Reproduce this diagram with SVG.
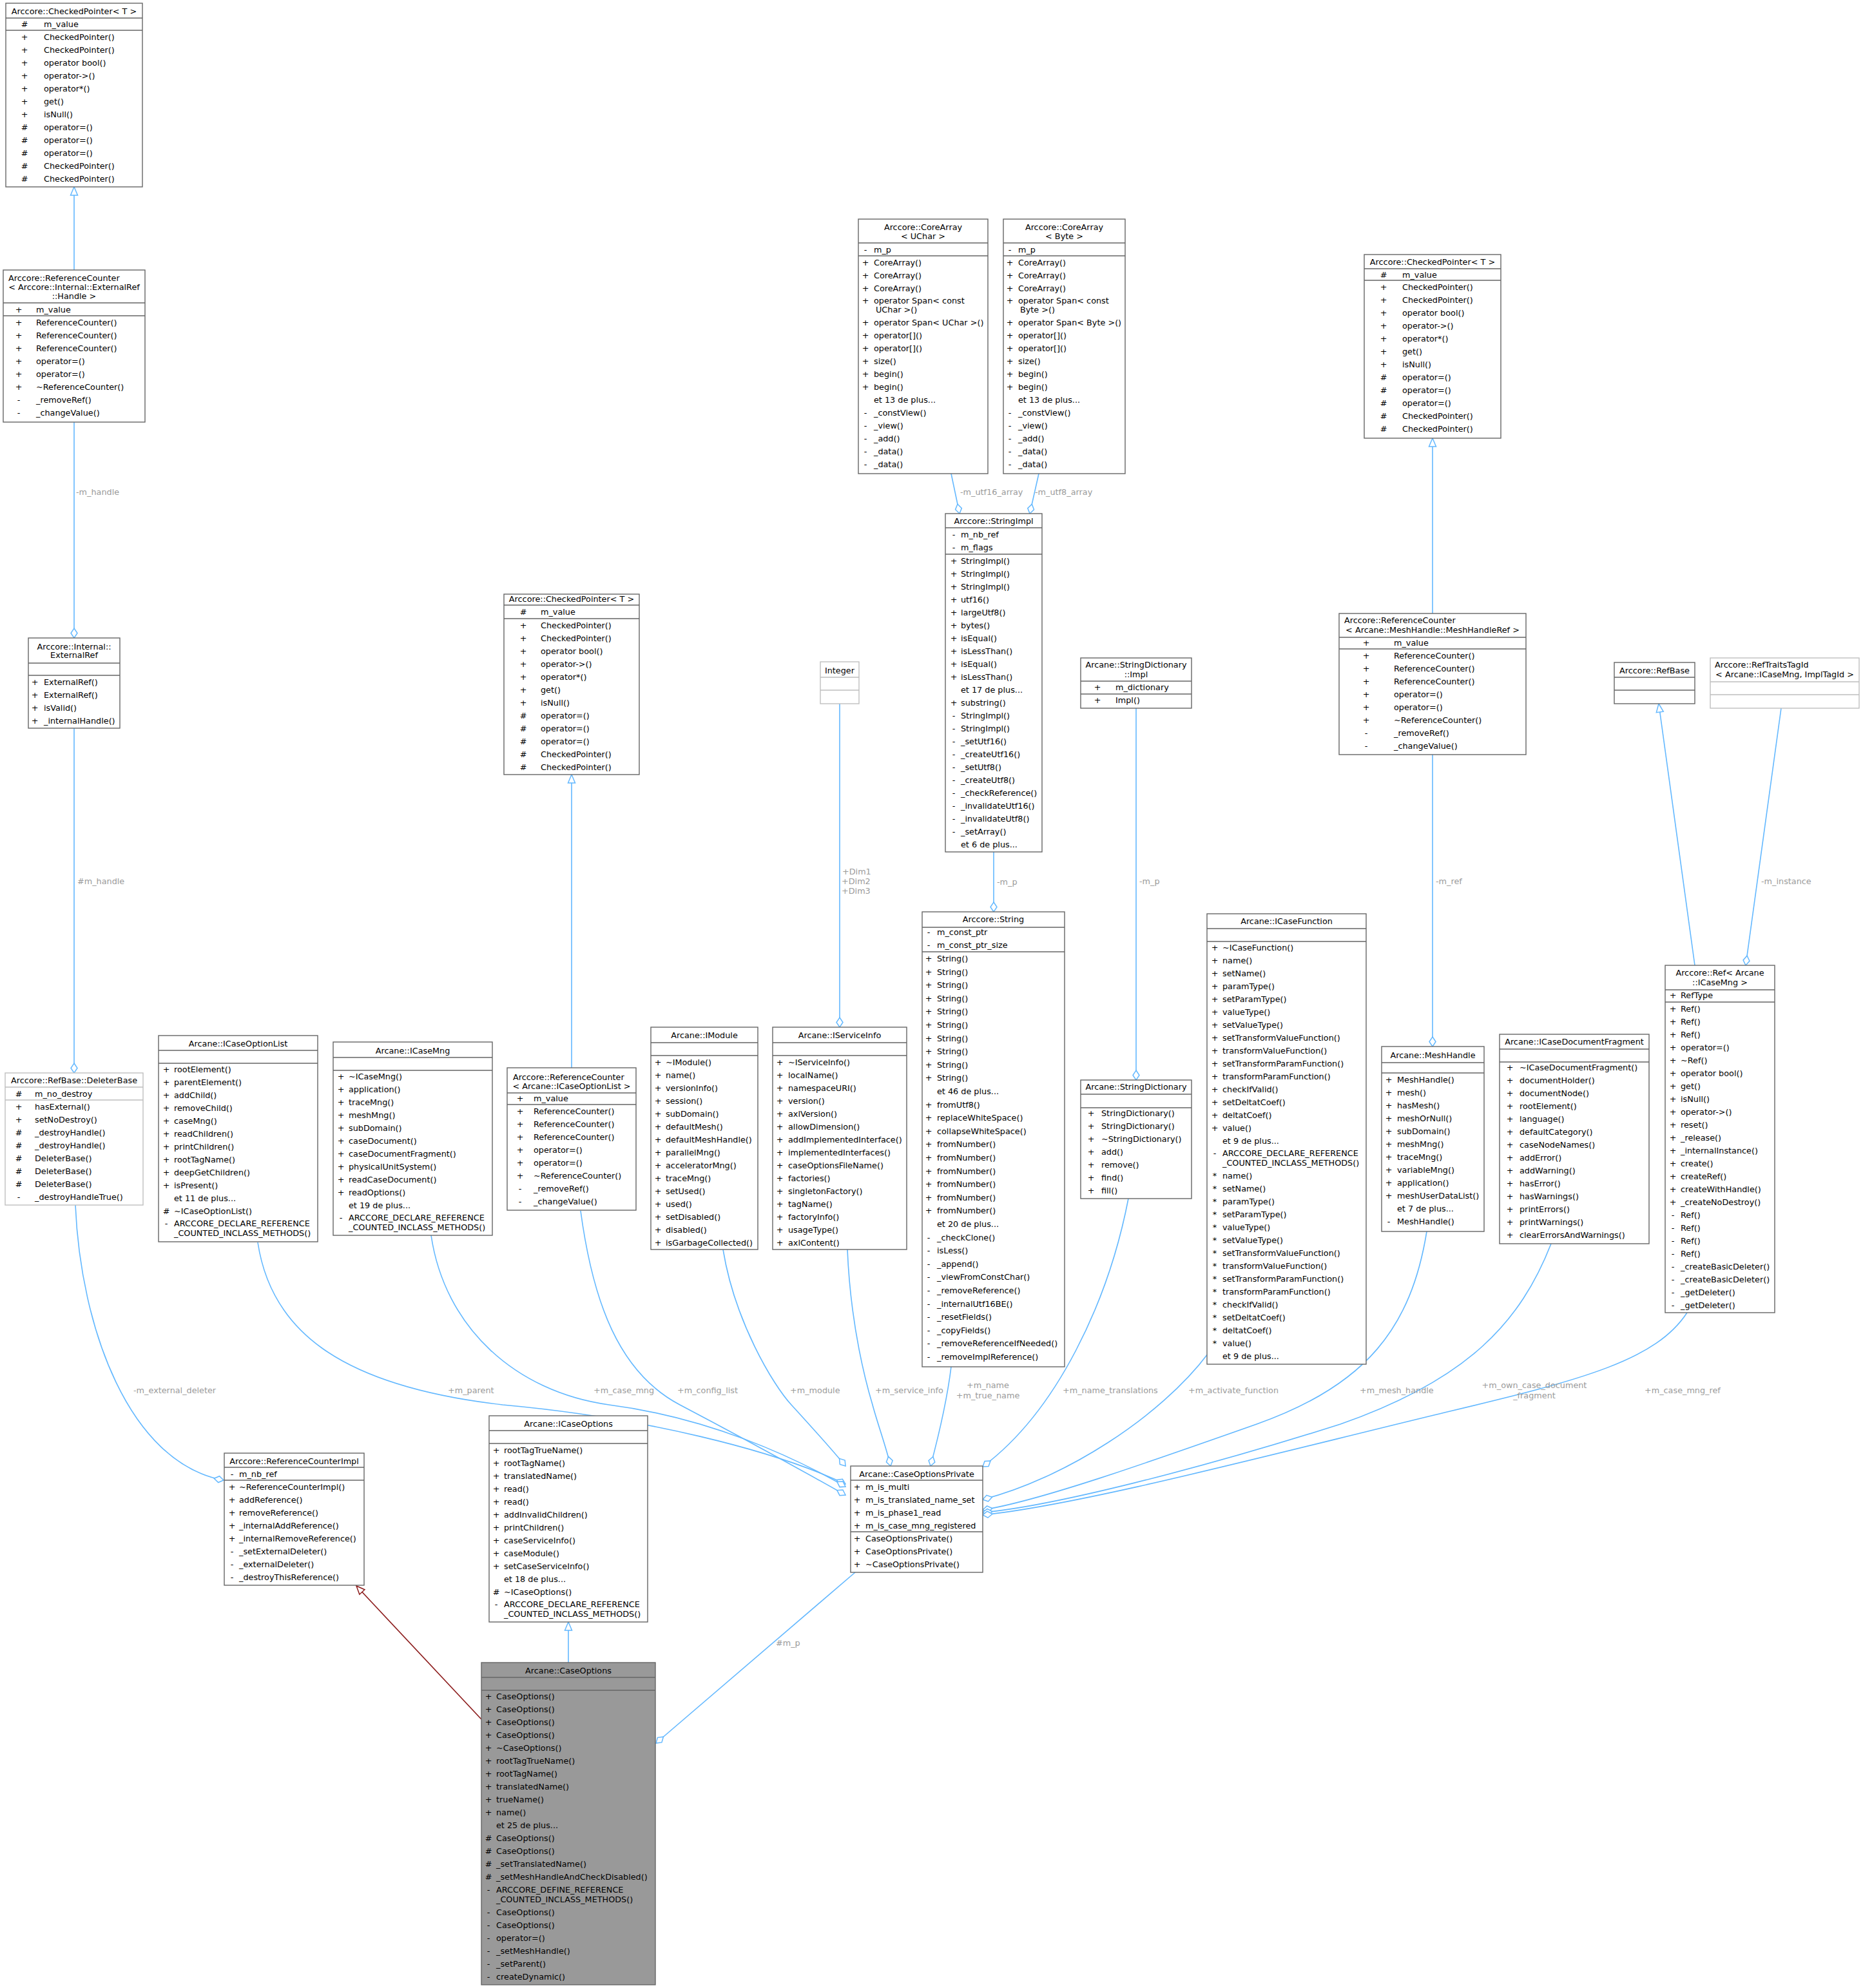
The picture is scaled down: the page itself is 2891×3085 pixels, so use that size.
<svg xmlns="http://www.w3.org/2000/svg" width="2891" height="3085" viewBox="0 0 2891 3085">
<style>
text{font-family:"DejaVu Sans","Liberation Sans",Arial,sans-serif;font-size:12.8px;fill:#000}
.m{text-anchor:middle}
.l{fill:#9a9a9a}
.b{fill:#fff;stroke:#666;stroke-width:1.4}
.x{fill:#fff;stroke:#bfbfbf;stroke-width:1.4}
.g{fill:#999;stroke:#666;stroke-width:1.4}
.s{stroke:#666;stroke-width:1.4;fill:none}
.sx{stroke:#bfbfbf;stroke-width:1.4;fill:none}
.e{fill:none;stroke:#63b8ff;stroke-width:1.6}
.r{fill:none;stroke:#8b1a1a;stroke-width:1.6}
</style>
<defs>
<marker id="dia" viewBox="-17 -7 18 14" refX="0" refY="0" markerWidth="18" markerHeight="14" orient="auto" markerUnits="userSpaceOnUse"><path d="M-15,0L-7.5,-5L0,0L-7.5,5Z" fill="#fff" stroke="#63b8ff" stroke-width="1.5"/></marker>
<marker id="tri" viewBox="-15 -7 16 14" refX="0" refY="0" markerWidth="16" markerHeight="14" orient="auto" markerUnits="userSpaceOnUse"><path d="M-13,-5.5L0,0L-13,5.5Z" fill="#fff" stroke="#63b8ff" stroke-width="1.5"/></marker>
<marker id="trir" viewBox="-15 -7 16 14" refX="0" refY="0" markerWidth="16" markerHeight="14" orient="auto" markerUnits="userSpaceOnUse"><path d="M-13,-5.5L0,0L-13,5.5Z" fill="#fff" stroke="#8b1a1a" stroke-width="1.5"/></marker>
</defs>
<rect width="2891" height="3085" fill="#fff"/>
<g id="edges">
<path class="e" marker-end="url(#tri)" d="M115,419V290"/>
<path class="e" marker-end="url(#dia)" d="M115,655V990"/>
<path class="e" marker-end="url(#dia)" d="M115,1130V1665"/>
<path class="e" marker-end="url(#dia)" d="M117,1870C125,2060 200,2270 347,2297"/>
<path class="e" marker-end="url(#tri)" d="M887,1657V1202"/>
<path class="e" marker-end="url(#dia)" d="M1303,1092V1594"/>
<path class="e" marker-end="url(#dia)" d="M1476,735L1489,797"/>
<path class="e" marker-end="url(#dia)" d="M1612,735L1598,797"/>
<path class="e" marker-end="url(#dia)" d="M1542,1322V1415"/>
<path class="e" marker-end="url(#dia)" d="M1763,1099V1676"/>
<path class="e" marker-end="url(#tri)" d="M2223,952V680"/>
<path class="e" marker-end="url(#dia)" d="M2223,1171V1624"/>
<path class="e" marker-end="url(#tri)" d="M2630,1498L2574,1092"/>
<path class="e" marker-end="url(#dia)" d="M2764,1099L2709,1498"/>
<path class="e" marker-end="url(#dia)" d="M400,1928C420,2060 520,2150 780,2180C1000,2200 1200,2250 1312,2303"/>
<path class="e" marker-end="url(#dia)" d="M669,1917C690,2060 800,2160 945,2180C1100,2200 1230,2260 1312,2307"/>
<path class="e" marker-end="url(#dia)" d="M901,1879C920,2020 960,2130 1055,2180C1150,2230 1250,2285 1312,2320"/>
<path class="e" marker-end="url(#dia)" d="M1122,1939C1140,2050 1200,2150 1228,2180C1260,2215 1290,2248 1312,2275"/>
<path class="e" marker-end="url(#dia)" d="M1315,1939C1320,2060 1345,2150 1354,2180C1362,2210 1375,2245 1382,2275"/>
<path class="e" marker-end="url(#dia)" d="M1476,2121C1470,2170 1460,2215 1444,2275"/>
<path class="e" marker-end="url(#dia)" d="M1751,1860C1720,2020 1640,2190 1525,2276"/>
<path class="e" marker-end="url(#dia)" d="M1875,2100C1800,2200 1650,2295 1525,2327"/>
<path class="e" marker-end="url(#dia)" d="M2214,1911C2190,2060 2120,2150 1950,2210C1780,2270 1610,2330 1525,2343"/>
<path class="e" marker-end="url(#dia)" d="M2407,1930C2360,2050 2280,2140 2080,2210C1860,2280 1630,2338 1525,2347"/>
<path class="e" marker-end="url(#dia)" d="M2618,2037C2570,2110 2460,2140 2250,2190C1980,2255 1680,2335 1525,2351"/>
<path class="e" marker-end="url(#dia)" d="M1327,2440L1018,2705"/>
<path class="e" marker-end="url(#tri)" d="M882,2580V2517"/>
<path class="r" marker-end="url(#trir)" d="M747,2668L553,2461"/>
<text class="l" x="118" y="768">-m_handle</text>
<text class="l" x="120" y="1372">#m_handle</text>
<text class="l" x="207" y="2162">-m_external_deleter</text>
<text class="l" x="1307" y="1357">+Dim1</text>
<text class="l" x="1306" y="1372">+Dim2</text>
<text class="l" x="1306" y="1387">+Dim3</text>
<text class="l" x="1490" y="768">-m_utf16_array</text>
<text class="l" x="1606" y="768">-m_utf8_array</text>
<text class="l" x="1547" y="1373">-m_p</text>
<text class="l" x="1768" y="1372">-m_p</text>
<text class="l" x="2228" y="1372">-m_ref</text>
<text class="l" x="2733" y="1372">-m_instance</text>
<text class="l" x="695" y="2162">+m_parent</text>
<text class="l" x="921" y="2162">+m_case_mng</text>
<text class="l" x="1051" y="2162">+m_config_list</text>
<text class="l" x="1226" y="2162">+m_module</text>
<text class="l" x="1358" y="2162">+m_service_info</text>
<text class="l m" x="1533" y="2154">+m_name</text>
<text class="l m" x="1533" y="2170">+m_true_name</text>
<text class="l" x="1649" y="2162">+m_name_translations</text>
<text class="l" x="1844" y="2162">+m_activate_function</text>
<text class="l" x="2110" y="2162">+m_mesh_handle</text>
<text class="l m" x="2381" y="2154">+m_own_case_document</text>
<text class="l m" x="2381" y="2170">_fragment</text>
<text class="l" x="2552" y="2162">+m_case_mng_ref</text>
<text class="l" x="1204" y="2554">#m_p</text>
</g>

<g id="cp1">
<rect class="b" x="9" y="5" width="212" height="285"/>
<path class="s" d="M9,28H221M9,47H221"/>
<text class="m" x="115" y="22">Arccore::CheckedPointer&lt; T &gt;</text>
<text class="m" x="38" y="42">#</text><text x="68" y="42">m_value</text>
<text class="m" y="62"><tspan x="38">+</tspan><tspan x="38" dy="20">+</tspan><tspan x="38" dy="20">+</tspan><tspan x="38" dy="20">+</tspan><tspan x="38" dy="20">+</tspan><tspan x="38" dy="20">+</tspan><tspan x="38" dy="20">+</tspan><tspan x="38" dy="20">#</tspan><tspan x="38" dy="20">#</tspan><tspan x="38" dy="20">#</tspan><tspan x="38" dy="20">#</tspan><tspan x="38" dy="20">#</tspan></text>
<text y="62"><tspan x="68">CheckedPointer()</tspan><tspan x="68" dy="20">CheckedPointer()</tspan><tspan x="68" dy="20">operator bool()</tspan><tspan x="68" dy="20">operator-&gt;()</tspan><tspan x="68" dy="20">operator*()</tspan><tspan x="68" dy="20">get()</tspan><tspan x="68" dy="20">isNull()</tspan><tspan x="68" dy="20">operator=()</tspan><tspan x="68" dy="20">operator=()</tspan><tspan x="68" dy="20">operator=()</tspan><tspan x="68" dy="20">CheckedPointer()</tspan><tspan x="68" dy="20">CheckedPointer()</tspan></text>
</g>

<g id="rc1">
<rect class="b" x="5" y="419" width="220" height="236"/>
<path class="s" d="M5,470H225M5,490H225"/>
<text x="13" y="436">Arccore::ReferenceCounter</text>
<text class="m" x="115" y="450">&lt; Arccore::Internal::ExternalRef</text>
<text class="m" x="115" y="464">::Handle &gt;</text>
<text class="m" x="29" y="485">+</text><text x="56" y="485">m_value</text>
<text class="m" y="505"><tspan x="29">+</tspan><tspan x="29" dy="20">+</tspan><tspan x="29" dy="20">+</tspan><tspan x="29" dy="20">+</tspan><tspan x="29" dy="20">+</tspan><tspan x="29" dy="20">+</tspan><tspan x="29" dy="20">-</tspan><tspan x="29" dy="20">-</tspan></text>
<text y="505"><tspan x="56">ReferenceCounter()</tspan><tspan x="56" dy="20">ReferenceCounter()</tspan><tspan x="56" dy="20">ReferenceCounter()</tspan><tspan x="56" dy="20">operator=()</tspan><tspan x="56" dy="20">operator=()</tspan><tspan x="56" dy="20">~ReferenceCounter()</tspan><tspan x="56" dy="20">_removeRef()</tspan><tspan x="56" dy="20">_changeValue()</tspan></text>
</g>

<g id="er">
<rect class="b" x="44" y="990" width="142" height="140"/>
<path class="s" d="M44,1029H186M44,1048H186"/>
<text class="m" x="115" y="1008">Arccore::Internal::</text>
<text class="m" x="115" y="1021">ExternalRef</text>
<text class="m" y="1063"><tspan x="54">+</tspan><tspan x="54" dy="20">+</tspan><tspan x="54" dy="20">+</tspan><tspan x="54" dy="20">+</tspan></text>
<text y="1063"><tspan x="68">ExternalRef()</tspan><tspan x="68" dy="20">ExternalRef()</tspan><tspan x="68" dy="20">isValid()</tspan><tspan x="68" dy="20">_internalHandle()</tspan></text>
</g>

<g id="db">
<rect class="x" x="8" y="1665" width="214" height="205"/>
<path class="sx" d="M8,1687H222M8,1707H222"/>
<text class="m" x="115" y="1681">Arccore::RefBase::DeleterBase</text>
<text class="m" x="29" y="1702">#</text><text x="54" y="1702">m_no_destroy</text>
<text class="m" y="1722"><tspan x="29">+</tspan><tspan x="29" dy="20">+</tspan><tspan x="29" dy="20">#</tspan><tspan x="29" dy="20">#</tspan><tspan x="29" dy="20">#</tspan><tspan x="29" dy="20">#</tspan><tspan x="29" dy="20">#</tspan><tspan x="29" dy="20">-</tspan></text>
<text y="1722"><tspan x="54">hasExternal()</tspan><tspan x="54" dy="20">setNoDestroy()</tspan><tspan x="54" dy="20">_destroyHandle()</tspan><tspan x="54" dy="20">_destroyHandle()</tspan><tspan x="54" dy="20">DeleterBase()</tspan><tspan x="54" dy="20">DeleterBase()</tspan><tspan x="54" dy="20">DeleterBase()</tspan><tspan x="54" dy="20">_destroyHandleTrue()</tspan></text>
</g>

<g id="rci">
<rect class="b" x="348" y="2255" width="217" height="205"/>
<path class="s" d="M348,2277H565M348,2297H565"/>
<text class="m" x="456.5" y="2272">Arccore::ReferenceCounterImpl</text>
<text class="m" x="360" y="2292">-</text><text x="371" y="2292">m_nb_ref</text>
<text class="m" y="2312"><tspan x="360">+</tspan><tspan x="360" dy="20">+</tspan><tspan x="360" dy="20">+</tspan><tspan x="360" dy="20">+</tspan><tspan x="360" dy="20">+</tspan><tspan x="360" dy="20">-</tspan><tspan x="360" dy="20">-</tspan><tspan x="360" dy="20">-</tspan></text>
<text y="2312"><tspan x="371">~ReferenceCounterImpl()</tspan><tspan x="371" dy="20">addReference()</tspan><tspan x="371" dy="20">removeReference()</tspan><tspan x="371" dy="20">_internalAddReference()</tspan><tspan x="371" dy="20">_internalRemoveReference()</tspan><tspan x="371" dy="20">_setExternalDeleter()</tspan><tspan x="371" dy="20">_externalDeleter()</tspan><tspan x="371" dy="20">_destroyThisReference()</tspan></text>
</g>

<g id="icol">
<rect class="b" x="246" y="1607" width="247" height="320"/>
<path class="s" d="M246,1630H493M246,1650H493"/>
<text class="m" x="369.5" y="1624">Arcane::ICaseOptionList</text>
<text class="m" y="1664"><tspan x="258">+</tspan><tspan x="258" dy="20">+</tspan><tspan x="258" dy="20">+</tspan><tspan x="258" dy="20">+</tspan><tspan x="258" dy="20">+</tspan><tspan x="258" dy="20">+</tspan><tspan x="258" dy="20">+</tspan><tspan x="258" dy="20">+</tspan><tspan x="258" dy="20">+</tspan><tspan x="258" dy="20">+</tspan><tspan x="258" dy="40">#</tspan><tspan x="258" dy="19">-</tspan></text>
<text y="1664"><tspan x="270">rootElement()</tspan><tspan x="270" dy="20">parentElement()</tspan><tspan x="270" dy="20">addChild()</tspan><tspan x="270" dy="20">removeChild()</tspan><tspan x="270" dy="20">caseMng()</tspan><tspan x="270" dy="20">readChildren()</tspan><tspan x="270" dy="20">printChildren()</tspan><tspan x="270" dy="20">rootTagName()</tspan><tspan x="270" dy="20">deepGetChildren()</tspan><tspan x="270" dy="20">isPresent()</tspan><tspan x="270" dy="20">et 11 de plus...</tspan><tspan x="270" dy="20">~ICaseOptionList()</tspan><tspan x="270" dy="19">ARCCORE_DECLARE_REFERENCE</tspan><tspan x="270" dy="15">_COUNTED_INCLASS_METHODS()</tspan></text>
</g>

<g id="icm">
<rect class="b" x="517" y="1617" width="247" height="300"/>
<path class="s" d="M517,1641H764M517,1661H764"/>
<text class="m" x="640.5" y="1635">Arcane::ICaseMng</text>
<text class="m" y="1675"><tspan x="529">+</tspan><tspan x="529" dy="20">+</tspan><tspan x="529" dy="20">+</tspan><tspan x="529" dy="20">+</tspan><tspan x="529" dy="20">+</tspan><tspan x="529" dy="20">+</tspan><tspan x="529" dy="20">+</tspan><tspan x="529" dy="20">+</tspan><tspan x="529" dy="20">+</tspan><tspan x="529" dy="20">+</tspan><tspan x="529" dy="39">-</tspan></text>
<text y="1675"><tspan x="541">~ICaseMng()</tspan><tspan x="541" dy="20">application()</tspan><tspan x="541" dy="20">traceMng()</tspan><tspan x="541" dy="20">meshMng()</tspan><tspan x="541" dy="20">subDomain()</tspan><tspan x="541" dy="20">caseDocument()</tspan><tspan x="541" dy="20">caseDocumentFragment()</tspan><tspan x="541" dy="20">physicalUnitSystem()</tspan><tspan x="541" dy="20">readCaseDocument()</tspan><tspan x="541" dy="20">readOptions()</tspan><tspan x="541" dy="20">et 19 de plus...</tspan><tspan x="541" dy="19">ARCCORE_DECLARE_REFERENCE</tspan><tspan x="541" dy="15">_COUNTED_INCLASS_METHODS()</tspan></text>
</g>

<g id="cp2">
<rect class="b" x="782" y="922" width="210" height="280"/>
<path class="s" d="M782,939H992M782,960H992"/>
<text class="m" x="887" y="934">Arccore::CheckedPointer&lt; T &gt;</text>
<text class="m" x="812" y="954">#</text><text x="839" y="954">m_value</text>
<text class="m" y="975"><tspan x="812">+</tspan><tspan x="812" dy="20">+</tspan><tspan x="812" dy="20">+</tspan><tspan x="812" dy="20">+</tspan><tspan x="812" dy="20">+</tspan><tspan x="812" dy="20">+</tspan><tspan x="812" dy="20">+</tspan><tspan x="812" dy="20">#</tspan><tspan x="812" dy="20">#</tspan><tspan x="812" dy="20">#</tspan><tspan x="812" dy="20">#</tspan><tspan x="812" dy="20">#</tspan></text>
<text y="975"><tspan x="839">CheckedPointer()</tspan><tspan x="839" dy="20">CheckedPointer()</tspan><tspan x="839" dy="20">operator bool()</tspan><tspan x="839" dy="20">operator-&gt;()</tspan><tspan x="839" dy="20">operator*()</tspan><tspan x="839" dy="20">get()</tspan><tspan x="839" dy="20">isNull()</tspan><tspan x="839" dy="20">operator=()</tspan><tspan x="839" dy="20">operator=()</tspan><tspan x="839" dy="20">operator=()</tspan><tspan x="839" dy="20">CheckedPointer()</tspan><tspan x="839" dy="20">CheckedPointer()</tspan></text>
</g>

<g id="rc2">
<rect class="b" x="787" y="1657" width="200" height="221"/>
<path class="s" d="M787,1696H987M787,1714H987"/>
<text x="796" y="1676">Arccore::ReferenceCounter</text>
<text class="m" x="887" y="1690">&lt; Arcane::ICaseOptionList &gt;</text>
<text class="m" x="807" y="1709">+</text><text x="828" y="1709">m_value</text>
<text class="m" y="1729"><tspan x="807">+</tspan><tspan x="807" dy="20">+</tspan><tspan x="807" dy="20">+</tspan><tspan x="807" dy="20">+</tspan><tspan x="807" dy="20">+</tspan><tspan x="807" dy="20">+</tspan><tspan x="807" dy="20">-</tspan><tspan x="807" dy="20">-</tspan></text>
<text y="1729"><tspan x="828">ReferenceCounter()</tspan><tspan x="828" dy="20">ReferenceCounter()</tspan><tspan x="828" dy="20">ReferenceCounter()</tspan><tspan x="828" dy="20">operator=()</tspan><tspan x="828" dy="20">operator=()</tspan><tspan x="828" dy="20">~ReferenceCounter()</tspan><tspan x="828" dy="20">_removeRef()</tspan><tspan x="828" dy="20">_changeValue()</tspan></text>
</g>

<g id="integer">
<rect class="x" x="1273" y="1027" width="60" height="65"/>
<path class="sx" d="M1273,1051H1333M1273,1071H1333"/>
<text class="m" x="1303" y="1045">Integer</text>
</g>

<g id="imodule">
<rect class="b" x="1010" y="1594" width="166" height="345"/>
<path class="s" d="M1010,1618H1176M1010,1638H1176"/>
<text class="m" x="1093" y="1611">Arcane::IModule</text>
<text class="m" y="1653"><tspan x="1021">+</tspan><tspan x="1021" dy="20">+</tspan><tspan x="1021" dy="20">+</tspan><tspan x="1021" dy="20">+</tspan><tspan x="1021" dy="20">+</tspan><tspan x="1021" dy="20">+</tspan><tspan x="1021" dy="20">+</tspan><tspan x="1021" dy="20">+</tspan><tspan x="1021" dy="20">+</tspan><tspan x="1021" dy="20">+</tspan><tspan x="1021" dy="20">+</tspan><tspan x="1021" dy="20">+</tspan><tspan x="1021" dy="20">+</tspan><tspan x="1021" dy="20">+</tspan><tspan x="1021" dy="20">+</tspan></text>
<text y="1653"><tspan x="1033">~IModule()</tspan><tspan x="1033" dy="20">name()</tspan><tspan x="1033" dy="20">versionInfo()</tspan><tspan x="1033" dy="20">session()</tspan><tspan x="1033" dy="20">subDomain()</tspan><tspan x="1033" dy="20">defaultMesh()</tspan><tspan x="1033" dy="20">defaultMeshHandle()</tspan><tspan x="1033" dy="20">parallelMng()</tspan><tspan x="1033" dy="20">acceleratorMng()</tspan><tspan x="1033" dy="20">traceMng()</tspan><tspan x="1033" dy="20">setUsed()</tspan><tspan x="1033" dy="20">used()</tspan><tspan x="1033" dy="20">setDisabled()</tspan><tspan x="1033" dy="20">disabled()</tspan><tspan x="1033" dy="20">isGarbageCollected()</tspan></text>
</g>

<g id="iserviceinfo">
<rect class="b" x="1199" y="1594" width="208" height="345"/>
<path class="s" d="M1199,1618H1407M1199,1638H1407"/>
<text class="m" x="1303" y="1611">Arcane::IServiceInfo</text>
<text class="m" y="1653"><tspan x="1210">+</tspan><tspan x="1210" dy="20">+</tspan><tspan x="1210" dy="20">+</tspan><tspan x="1210" dy="20">+</tspan><tspan x="1210" dy="20">+</tspan><tspan x="1210" dy="20">+</tspan><tspan x="1210" dy="20">+</tspan><tspan x="1210" dy="20">+</tspan><tspan x="1210" dy="20">+</tspan><tspan x="1210" dy="20">+</tspan><tspan x="1210" dy="20">+</tspan><tspan x="1210" dy="20">+</tspan><tspan x="1210" dy="20">+</tspan><tspan x="1210" dy="20">+</tspan><tspan x="1210" dy="20">+</tspan></text>
<text y="1653"><tspan x="1223">~IServiceInfo()</tspan><tspan x="1223" dy="20">localName()</tspan><tspan x="1223" dy="20">namespaceURI()</tspan><tspan x="1223" dy="20">version()</tspan><tspan x="1223" dy="20">axlVersion()</tspan><tspan x="1223" dy="20">allowDimension()</tspan><tspan x="1223" dy="20">addImplementedInterface()</tspan><tspan x="1223" dy="20">implementedInterfaces()</tspan><tspan x="1223" dy="20">caseOptionsFileName()</tspan><tspan x="1223" dy="20">factories()</tspan><tspan x="1223" dy="20">singletonFactory()</tspan><tspan x="1223" dy="20">tagName()</tspan><tspan x="1223" dy="20">factoryInfo()</tspan><tspan x="1223" dy="20">usageType()</tspan><tspan x="1223" dy="20">axlContent()</tspan></text>
</g>

<g id="ca1">
<rect class="b" x="1332" y="340" width="201" height="395"/>
<path class="s" d="M1332,377H1533M1332,397H1533"/>
<text class="m" x="1432.5" y="357">Arccore::CoreArray</text>
<text class="m" x="1432.5" y="371">&lt; UChar &gt;</text>
<text class="m" x="1343" y="392">-</text><text x="1356" y="392">m_p</text>
<text class="m"><tspan x="1343" y="412">+</tspan><tspan x="1343" y="432">+</tspan><tspan x="1343" y="452">+</tspan><tspan x="1343" y="471">+</tspan><tspan x="1343" y="505">+</tspan><tspan x="1343" y="525">+</tspan><tspan x="1343" y="545">+</tspan><tspan x="1343" y="565">+</tspan><tspan x="1343" y="585">+</tspan><tspan x="1343" y="605">+</tspan><tspan x="1343" y="645">-</tspan><tspan x="1343" y="665">-</tspan><tspan x="1343" y="685">-</tspan><tspan x="1343" y="705">-</tspan><tspan x="1343" y="725">-</tspan></text>
<text><tspan x="1356" y="412">CoreArray()</tspan><tspan x="1356" y="432">CoreArray()</tspan><tspan x="1356" y="452">CoreArray()</tspan><tspan x="1356" y="471">operator Span&lt; const</tspan><tspan x="1359" y="485">UChar &gt;()</tspan><tspan x="1356" y="505">operator Span&lt; UChar &gt;()</tspan><tspan x="1356" y="525">operator[]()</tspan><tspan x="1356" y="545">operator[]()</tspan><tspan x="1356" y="565">size()</tspan><tspan x="1356" y="585">begin()</tspan><tspan x="1356" y="605">begin()</tspan><tspan x="1356" y="625">et 13 de plus...</tspan><tspan x="1356" y="645">_constView()</tspan><tspan x="1356" y="665">_view()</tspan><tspan x="1356" y="685">_add()</tspan><tspan x="1356" y="705">_data()</tspan><tspan x="1356" y="725">_data()</tspan></text>
</g>

<g id="ca2">
<rect class="b" x="1557" y="340" width="189" height="395"/>
<path class="s" d="M1557,377H1746M1557,397H1746"/>
<text class="m" x="1651.5" y="357">Arccore::CoreArray</text>
<text class="m" x="1651.5" y="371">&lt; Byte &gt;</text>
<text class="m" x="1567" y="392">-</text><text x="1580" y="392">m_p</text>
<text class="m"><tspan x="1567" y="412">+</tspan><tspan x="1567" y="432">+</tspan><tspan x="1567" y="452">+</tspan><tspan x="1567" y="471">+</tspan><tspan x="1567" y="505">+</tspan><tspan x="1567" y="525">+</tspan><tspan x="1567" y="545">+</tspan><tspan x="1567" y="565">+</tspan><tspan x="1567" y="585">+</tspan><tspan x="1567" y="605">+</tspan><tspan x="1567" y="645">-</tspan><tspan x="1567" y="665">-</tspan><tspan x="1567" y="685">-</tspan><tspan x="1567" y="705">-</tspan><tspan x="1567" y="725">-</tspan></text>
<text><tspan x="1580" y="412">CoreArray()</tspan><tspan x="1580" y="432">CoreArray()</tspan><tspan x="1580" y="452">CoreArray()</tspan><tspan x="1580" y="471">operator Span&lt; const</tspan><tspan x="1583" y="485">Byte &gt;()</tspan><tspan x="1580" y="505">operator Span&lt; Byte &gt;()</tspan><tspan x="1580" y="525">operator[]()</tspan><tspan x="1580" y="545">operator[]()</tspan><tspan x="1580" y="565">size()</tspan><tspan x="1580" y="585">begin()</tspan><tspan x="1580" y="605">begin()</tspan><tspan x="1580" y="625">et 13 de plus...</tspan><tspan x="1580" y="645">_constView()</tspan><tspan x="1580" y="665">_view()</tspan><tspan x="1580" y="685">_add()</tspan><tspan x="1580" y="705">_data()</tspan><tspan x="1580" y="725">_data()</tspan></text>
</g>

<g id="stringimpl">
<rect class="b" x="1467" y="797" width="150" height="525"/>
<path class="s" d="M1467,819H1617M1467,860H1617"/>
<text class="m" x="1542" y="813">Arccore::StringImpl</text>
<text class="m" y="834"><tspan x="1480">-</tspan><tspan x="1480" dy="20">-</tspan></text>
<text y="834"><tspan x="1491">m_nb_ref</tspan><tspan x="1491" dy="20">m_flags</tspan></text>
<text class="m" y="875"><tspan x="1480">+</tspan><tspan x="1480" dy="20">+</tspan><tspan x="1480" dy="20">+</tspan><tspan x="1480" dy="20">+</tspan><tspan x="1480" dy="20">+</tspan><tspan x="1480" dy="20">+</tspan><tspan x="1480" dy="20">+</tspan><tspan x="1480" dy="20">+</tspan><tspan x="1480" dy="20">+</tspan><tspan x="1480" dy="20">+</tspan><tspan x="1480" dy="40">+</tspan><tspan x="1480" dy="20">-</tspan><tspan x="1480" dy="20">-</tspan><tspan x="1480" dy="20">-</tspan><tspan x="1480" dy="20">-</tspan><tspan x="1480" dy="20">-</tspan><tspan x="1480" dy="20">-</tspan><tspan x="1480" dy="20">-</tspan><tspan x="1480" dy="20">-</tspan><tspan x="1480" dy="20">-</tspan><tspan x="1480" dy="20">-</tspan></text>
<text y="875"><tspan x="1491">StringImpl()</tspan><tspan x="1491" dy="20">StringImpl()</tspan><tspan x="1491" dy="20">StringImpl()</tspan><tspan x="1491" dy="20">utf16()</tspan><tspan x="1491" dy="20">largeUtf8()</tspan><tspan x="1491" dy="20">bytes()</tspan><tspan x="1491" dy="20">isEqual()</tspan><tspan x="1491" dy="20">isLessThan()</tspan><tspan x="1491" dy="20">isEqual()</tspan><tspan x="1491" dy="20">isLessThan()</tspan><tspan x="1491" dy="20">et 17 de plus...</tspan><tspan x="1491" dy="20">substring()</tspan><tspan x="1491" dy="20">StringImpl()</tspan><tspan x="1491" dy="20">StringImpl()</tspan><tspan x="1491" dy="20">_setUtf16()</tspan><tspan x="1491" dy="20">_createUtf16()</tspan><tspan x="1491" dy="20">_setUtf8()</tspan><tspan x="1491" dy="20">_createUtf8()</tspan><tspan x="1491" dy="20">_checkReference()</tspan><tspan x="1491" dy="20">_invalidateUtf16()</tspan><tspan x="1491" dy="20">_invalidateUtf8()</tspan><tspan x="1491" dy="20">_setArray()</tspan><tspan x="1491" dy="20">et 6 de plus...</tspan></text>
</g>

<g id="string">
<rect class="b" x="1431" y="1415" width="221" height="706"/>
<path class="s" d="M1431,1439H1652M1431,1477H1652"/>
<text class="m" x="1541.5" y="1431">Arccore::String</text>
<text class="m" y="1451"><tspan x="1441">-</tspan><tspan x="1441" dy="20">-</tspan></text>
<text y="1451"><tspan x="1454">m_const_ptr</tspan><tspan x="1454" dy="20">m_const_ptr_size</tspan></text>
<text class="m" y="1492"><tspan x="1441">+</tspan><tspan x="1441" dy="20.6">+</tspan><tspan x="1441" dy="20.6">+</tspan><tspan x="1441" dy="20.6">+</tspan><tspan x="1441" dy="20.6">+</tspan><tspan x="1441" dy="20.6">+</tspan><tspan x="1441" dy="20.6">+</tspan><tspan x="1441" dy="20.6">+</tspan><tspan x="1441" dy="20.6">+</tspan><tspan x="1441" dy="20.6">+</tspan><tspan x="1441" dy="41.2">+</tspan><tspan x="1441" dy="20.6">+</tspan><tspan x="1441" dy="20.6">+</tspan><tspan x="1441" dy="20.6">+</tspan><tspan x="1441" dy="20.6">+</tspan><tspan x="1441" dy="20.6">+</tspan><tspan x="1441" dy="20.6">+</tspan><tspan x="1441" dy="20.6">+</tspan><tspan x="1441" dy="20.6">+</tspan><tspan x="1441" dy="41.2">-</tspan><tspan x="1441" dy="20.6">-</tspan><tspan x="1441" dy="20.6">-</tspan><tspan x="1441" dy="20.6">-</tspan><tspan x="1441" dy="20.6">-</tspan><tspan x="1441" dy="20.6">-</tspan><tspan x="1441" dy="20.6">-</tspan><tspan x="1441" dy="20.6">-</tspan><tspan x="1441" dy="20.6">-</tspan><tspan x="1441" dy="20.6">-</tspan></text>
<text y="1492"><tspan x="1454">String()</tspan><tspan x="1454" dy="20.6">String()</tspan><tspan x="1454" dy="20.6">String()</tspan><tspan x="1454" dy="20.6">String()</tspan><tspan x="1454" dy="20.6">String()</tspan><tspan x="1454" dy="20.6">String()</tspan><tspan x="1454" dy="20.6">String()</tspan><tspan x="1454" dy="20.6">String()</tspan><tspan x="1454" dy="20.6">String()</tspan><tspan x="1454" dy="20.6">String()</tspan><tspan x="1454" dy="20.6">et 46 de plus...</tspan><tspan x="1454" dy="20.6">fromUtf8()</tspan><tspan x="1454" dy="20.6">replaceWhiteSpace()</tspan><tspan x="1454" dy="20.6">collapseWhiteSpace()</tspan><tspan x="1454" dy="20.6">fromNumber()</tspan><tspan x="1454" dy="20.6">fromNumber()</tspan><tspan x="1454" dy="20.6">fromNumber()</tspan><tspan x="1454" dy="20.6">fromNumber()</tspan><tspan x="1454" dy="20.6">fromNumber()</tspan><tspan x="1454" dy="20.6">fromNumber()</tspan><tspan x="1454" dy="20.6">et 20 de plus...</tspan><tspan x="1454" dy="20.6">_checkClone()</tspan><tspan x="1454" dy="20.6">isLess()</tspan><tspan x="1454" dy="20.6">_append()</tspan><tspan x="1454" dy="20.6">_viewFromConstChar()</tspan><tspan x="1454" dy="20.6">_removeReference()</tspan><tspan x="1454" dy="20.6">_internalUtf16BE()</tspan><tspan x="1454" dy="20.6">_resetFields()</tspan><tspan x="1454" dy="20.6">_copyFields()</tspan><tspan x="1454" dy="20.6">_removeReferenceIfNeeded()</tspan><tspan x="1454" dy="20.6">_removeImplReference()</tspan></text>
</g>

<g id="sdimpl">
<rect class="b" x="1677" y="1021" width="172" height="78"/>
<path class="s" d="M1677,1057H1849M1677,1077H1849"/>
<text class="m" x="1763" y="1036">Arcane::StringDictionary</text>
<text class="m" x="1763" y="1051">::Impl</text>
<text class="m" x="1703" y="1071">+</text><text x="1731" y="1071">m_dictionary</text>
<text class="m" x="1703" y="1091">+</text><text x="1731" y="1091">Impl()</text>
</g>

<g id="sd">
<rect class="b" x="1677" y="1676" width="172" height="184"/>
<path class="s" d="M1677,1698H1849M1677,1719H1849"/>
<text class="m" x="1763" y="1691">Arcane::StringDictionary</text>
<text class="m" y="1732"><tspan x="1693">+</tspan><tspan x="1693" dy="20">+</tspan><tspan x="1693" dy="20">+</tspan><tspan x="1693" dy="20">+</tspan><tspan x="1693" dy="20">+</tspan><tspan x="1693" dy="20">+</tspan><tspan x="1693" dy="20">+</tspan></text>
<text y="1732"><tspan x="1709">StringDictionary()</tspan><tspan x="1709" dy="20">StringDictionary()</tspan><tspan x="1709" dy="20">~StringDictionary()</tspan><tspan x="1709" dy="20">add()</tspan><tspan x="1709" dy="20">remove()</tspan><tspan x="1709" dy="20">find()</tspan><tspan x="1709" dy="20">fill()</tspan></text>
</g>

<g id="icasefunction">
<rect class="b" x="1873" y="1418" width="247" height="699"/>
<path class="s" d="M1873,1441H2120M1873,1461H2120"/>
<text class="m" x="1996.5" y="1434">Arcane::ICaseFunction</text>
<text class="m" y="1475"><tspan x="1885">+</tspan><tspan x="1885" dy="20">+</tspan><tspan x="1885" dy="20">+</tspan><tspan x="1885" dy="20">+</tspan><tspan x="1885" dy="20">+</tspan><tspan x="1885" dy="20">+</tspan><tspan x="1885" dy="20">+</tspan><tspan x="1885" dy="20">+</tspan><tspan x="1885" dy="20">+</tspan><tspan x="1885" dy="20">+</tspan><tspan x="1885" dy="20">+</tspan><tspan x="1885" dy="20">+</tspan><tspan x="1885" dy="20">+</tspan><tspan x="1885" dy="20">+</tspan><tspan x="1885" dy="20">+</tspan><tspan x="1885" dy="39">-</tspan><tspan x="1885" dy="35">*</tspan><tspan x="1885" dy="20">*</tspan><tspan x="1885" dy="20">*</tspan><tspan x="1885" dy="20">*</tspan><tspan x="1885" dy="20">*</tspan><tspan x="1885" dy="20">*</tspan><tspan x="1885" dy="20">*</tspan><tspan x="1885" dy="20">*</tspan><tspan x="1885" dy="20">*</tspan><tspan x="1885" dy="20">*</tspan><tspan x="1885" dy="20">*</tspan><tspan x="1885" dy="20">*</tspan><tspan x="1885" dy="20">*</tspan><tspan x="1885" dy="20">*</tspan></text>
<text y="1475"><tspan x="1897">~ICaseFunction()</tspan><tspan x="1897" dy="20">name()</tspan><tspan x="1897" dy="20">setName()</tspan><tspan x="1897" dy="20">paramType()</tspan><tspan x="1897" dy="20">setParamType()</tspan><tspan x="1897" dy="20">valueType()</tspan><tspan x="1897" dy="20">setValueType()</tspan><tspan x="1897" dy="20">setTransformValueFunction()</tspan><tspan x="1897" dy="20">transformValueFunction()</tspan><tspan x="1897" dy="20">setTransformParamFunction()</tspan><tspan x="1897" dy="20">transformParamFunction()</tspan><tspan x="1897" dy="20">checkIfValid()</tspan><tspan x="1897" dy="20">setDeltatCoef()</tspan><tspan x="1897" dy="20">deltatCoef()</tspan><tspan x="1897" dy="20">value()</tspan><tspan x="1897" dy="20">et 9 de plus...</tspan><tspan x="1897" dy="19">ARCCORE_DECLARE_REFERENCE</tspan><tspan x="1897" dy="15">_COUNTED_INCLASS_METHODS()</tspan><tspan x="1897" dy="20">name()</tspan><tspan x="1897" dy="20">setName()</tspan><tspan x="1897" dy="20">paramType()</tspan><tspan x="1897" dy="20">setParamType()</tspan><tspan x="1897" dy="20">valueType()</tspan><tspan x="1897" dy="20">setValueType()</tspan><tspan x="1897" dy="20">setTransformValueFunction()</tspan><tspan x="1897" dy="20">transformValueFunction()</tspan><tspan x="1897" dy="20">setTransformParamFunction()</tspan><tspan x="1897" dy="20">transformParamFunction()</tspan><tspan x="1897" dy="20">checkIfValid()</tspan><tspan x="1897" dy="20">setDeltatCoef()</tspan><tspan x="1897" dy="20">deltatCoef()</tspan><tspan x="1897" dy="20">value()</tspan><tspan x="1897" dy="20">et 9 de plus...</tspan></text>
</g>

<g id="cp3">
<rect class="b" x="2117" y="395" width="212" height="285"/>
<path class="s" d="M2117,417H2329M2117,435H2329"/>
<text class="m" x="2223" y="411">Arccore::CheckedPointer&lt; T &gt;</text>
<text class="m" x="2147" y="431">#</text><text x="2176" y="431">m_value</text>
<text class="m" y="450"><tspan x="2147">+</tspan><tspan x="2147" dy="20">+</tspan><tspan x="2147" dy="20">+</tspan><tspan x="2147" dy="20">+</tspan><tspan x="2147" dy="20">+</tspan><tspan x="2147" dy="20">+</tspan><tspan x="2147" dy="20">+</tspan><tspan x="2147" dy="20">#</tspan><tspan x="2147" dy="20">#</tspan><tspan x="2147" dy="20">#</tspan><tspan x="2147" dy="20">#</tspan><tspan x="2147" dy="20">#</tspan></text>
<text y="450"><tspan x="2176">CheckedPointer()</tspan><tspan x="2176" dy="20">CheckedPointer()</tspan><tspan x="2176" dy="20">operator bool()</tspan><tspan x="2176" dy="20">operator-&gt;()</tspan><tspan x="2176" dy="20">operator*()</tspan><tspan x="2176" dy="20">get()</tspan><tspan x="2176" dy="20">isNull()</tspan><tspan x="2176" dy="20">operator=()</tspan><tspan x="2176" dy="20">operator=()</tspan><tspan x="2176" dy="20">operator=()</tspan><tspan x="2176" dy="20">CheckedPointer()</tspan><tspan x="2176" dy="20">CheckedPointer()</tspan></text>
</g>

<g id="rc3">
<rect class="b" x="2078" y="952" width="290" height="219"/>
<path class="s" d="M2078,989H2368M2078,1007H2368"/>
<text x="2086" y="967">Arccore::ReferenceCounter</text>
<text class="m" x="2223" y="982">&lt; Arcane::MeshHandle::MeshHandleRef &gt;</text>
<text class="m" x="2120" y="1002">+</text><text x="2163" y="1002">m_value</text>
<text class="m" y="1022"><tspan x="2120">+</tspan><tspan x="2120" dy="20">+</tspan><tspan x="2120" dy="20">+</tspan><tspan x="2120" dy="20">+</tspan><tspan x="2120" dy="20">+</tspan><tspan x="2120" dy="20">+</tspan><tspan x="2120" dy="20">-</tspan><tspan x="2120" dy="20">-</tspan></text>
<text y="1022"><tspan x="2163">ReferenceCounter()</tspan><tspan x="2163" dy="20">ReferenceCounter()</tspan><tspan x="2163" dy="20">ReferenceCounter()</tspan><tspan x="2163" dy="20">operator=()</tspan><tspan x="2163" dy="20">operator=()</tspan><tspan x="2163" dy="20">~ReferenceCounter()</tspan><tspan x="2163" dy="20">_removeRef()</tspan><tspan x="2163" dy="20">_changeValue()</tspan></text>
</g>

<g id="meshhandle">
<rect class="b" x="2144" y="1624" width="159" height="287"/>
<path class="s" d="M2144,1649H2303M2144,1665H2303"/>
<text class="m" x="2223.5" y="1642">Arcane::MeshHandle</text>
<text class="m" y="1680"><tspan x="2155">+</tspan><tspan x="2155" dy="20">+</tspan><tspan x="2155" dy="20">+</tspan><tspan x="2155" dy="20">+</tspan><tspan x="2155" dy="20">+</tspan><tspan x="2155" dy="20">+</tspan><tspan x="2155" dy="20">+</tspan><tspan x="2155" dy="20">+</tspan><tspan x="2155" dy="20">+</tspan><tspan x="2155" dy="20">+</tspan><tspan x="2155" dy="40">-</tspan></text>
<text y="1680"><tspan x="2168">MeshHandle()</tspan><tspan x="2168" dy="20">mesh()</tspan><tspan x="2168" dy="20">hasMesh()</tspan><tspan x="2168" dy="20">meshOrNull()</tspan><tspan x="2168" dy="20">subDomain()</tspan><tspan x="2168" dy="20">meshMng()</tspan><tspan x="2168" dy="20">traceMng()</tspan><tspan x="2168" dy="20">variableMng()</tspan><tspan x="2168" dy="20">application()</tspan><tspan x="2168" dy="20">meshUserDataList()</tspan><tspan x="2168" dy="20">et 7 de plus...</tspan><tspan x="2168" dy="20">MeshHandle()</tspan></text>
</g>

<g id="icdf">
<rect class="b" x="2327" y="1605" width="232" height="325"/>
<path class="s" d="M2327,1628H2559M2327,1648H2559"/>
<text class="m" x="2443" y="1621">Arcane::ICaseDocumentFragment</text>
<text class="m" y="1661"><tspan x="2343">+</tspan><tspan x="2343" dy="20">+</tspan><tspan x="2343" dy="20">+</tspan><tspan x="2343" dy="20">+</tspan><tspan x="2343" dy="20">+</tspan><tspan x="2343" dy="20">+</tspan><tspan x="2343" dy="20">+</tspan><tspan x="2343" dy="20">+</tspan><tspan x="2343" dy="20">+</tspan><tspan x="2343" dy="20">+</tspan><tspan x="2343" dy="20">+</tspan><tspan x="2343" dy="20">+</tspan><tspan x="2343" dy="20">+</tspan><tspan x="2343" dy="20">+</tspan></text>
<text y="1661"><tspan x="2358">~ICaseDocumentFragment()</tspan><tspan x="2358" dy="20">documentHolder()</tspan><tspan x="2358" dy="20">documentNode()</tspan><tspan x="2358" dy="20">rootElement()</tspan><tspan x="2358" dy="20">language()</tspan><tspan x="2358" dy="20">defaultCategory()</tspan><tspan x="2358" dy="20">caseNodeNames()</tspan><tspan x="2358" dy="20">addError()</tspan><tspan x="2358" dy="20">addWarning()</tspan><tspan x="2358" dy="20">hasError()</tspan><tspan x="2358" dy="20">hasWarnings()</tspan><tspan x="2358" dy="20">printErrors()</tspan><tspan x="2358" dy="20">printWarnings()</tspan><tspan x="2358" dy="20">clearErrorsAndWarnings()</tspan></text>
</g>

<g id="refbase">
<rect class="b" x="2505" y="1028" width="125" height="64"/>
<path class="s" d="M2505,1051H2630M2505,1071H2630"/>
<text class="m" x="2567.5" y="1045">Arccore::RefBase</text>
</g>

<g id="reftraits">
<rect class="x" x="2654" y="1021" width="231" height="78"/>
<path class="sx" d="M2654,1058H2885M2654,1078H2885"/>
<text x="2661" y="1036">Arccore::RefTraitsTagId</text>
<text class="m" x="2769.5" y="1051">&lt; Arcane::ICaseMng, ImplTagId &gt;</text>
</g>

<g id="ref">
<rect class="b" x="2584" y="1498" width="170" height="539"/>
<path class="s" d="M2584,1536H2754M2584,1555H2754"/>
<text class="m" x="2669" y="1514">Arccore::Ref&lt; Arcane</text>
<text class="m" x="2669" y="1529">::ICaseMng &gt;</text>
<text class="m" x="2596" y="1549">+</text><text x="2608" y="1549">RefType</text>
<text class="m" y="1570"><tspan x="2596">+</tspan><tspan x="2596" dy="20">+</tspan><tspan x="2596" dy="20">+</tspan><tspan x="2596" dy="20">+</tspan><tspan x="2596" dy="20">+</tspan><tspan x="2596" dy="20">+</tspan><tspan x="2596" dy="20">+</tspan><tspan x="2596" dy="20">+</tspan><tspan x="2596" dy="20">+</tspan><tspan x="2596" dy="20">+</tspan><tspan x="2596" dy="20">+</tspan><tspan x="2596" dy="20">+</tspan><tspan x="2596" dy="20">+</tspan><tspan x="2596" dy="20">+</tspan><tspan x="2596" dy="20">+</tspan><tspan x="2596" dy="20">+</tspan><tspan x="2596" dy="20">-</tspan><tspan x="2596" dy="20">-</tspan><tspan x="2596" dy="20">-</tspan><tspan x="2596" dy="20">-</tspan><tspan x="2596" dy="20">-</tspan><tspan x="2596" dy="20">-</tspan><tspan x="2596" dy="20">-</tspan><tspan x="2596" dy="20">-</tspan></text>
<text y="1570"><tspan x="2608">Ref()</tspan><tspan x="2608" dy="20">Ref()</tspan><tspan x="2608" dy="20">Ref()</tspan><tspan x="2608" dy="20">operator=()</tspan><tspan x="2608" dy="20">~Ref()</tspan><tspan x="2608" dy="20">operator bool()</tspan><tspan x="2608" dy="20">get()</tspan><tspan x="2608" dy="20">isNull()</tspan><tspan x="2608" dy="20">operator-&gt;()</tspan><tspan x="2608" dy="20">reset()</tspan><tspan x="2608" dy="20">_release()</tspan><tspan x="2608" dy="20">_internalInstance()</tspan><tspan x="2608" dy="20">create()</tspan><tspan x="2608" dy="20">createRef()</tspan><tspan x="2608" dy="20">createWithHandle()</tspan><tspan x="2608" dy="20">_createNoDestroy()</tspan><tspan x="2608" dy="20">Ref()</tspan><tspan x="2608" dy="20">Ref()</tspan><tspan x="2608" dy="20">Ref()</tspan><tspan x="2608" dy="20">Ref()</tspan><tspan x="2608" dy="20">_createBasicDeleter()</tspan><tspan x="2608" dy="20">_createBasicDeleter()</tspan><tspan x="2608" dy="20">_getDeleter()</tspan><tspan x="2608" dy="20">_getDeleter()</tspan></text>
</g>

<g id="cop">
<rect class="b" x="1320" y="2275" width="205" height="165"/>
<path class="s" d="M1320,2297H1525M1320,2377H1525"/>
<text class="m" x="1422.5" y="2292">Arcane::CaseOptionsPrivate</text>
<text class="m" y="2312"><tspan x="1330">+</tspan><tspan x="1330" dy="20">+</tspan><tspan x="1330" dy="20">+</tspan><tspan x="1330" dy="20">+</tspan><tspan x="1330" dy="20">+</tspan><tspan x="1330" dy="20">+</tspan><tspan x="1330" dy="20">+</tspan></text>
<text y="2312"><tspan x="1343">m_is_multi</tspan><tspan x="1343" dy="20">m_is_translated_name_set</tspan><tspan x="1343" dy="20">m_is_phase1_read</tspan><tspan x="1343" dy="20">m_is_case_mng_registered</tspan><tspan x="1343" dy="20">CaseOptionsPrivate()</tspan><tspan x="1343" dy="20">CaseOptionsPrivate()</tspan><tspan x="1343" dy="20">~CaseOptionsPrivate()</tspan></text>
</g>

<g id="icaseoptions">
<rect class="b" x="759" y="2197" width="246" height="320"/>
<path class="s" d="M759,2220H1005M759,2240H1005"/>
<text class="m" x="882" y="2214">Arcane::ICaseOptions</text>
<text class="m" y="2255"><tspan x="770">+</tspan><tspan x="770" dy="20">+</tspan><tspan x="770" dy="20">+</tspan><tspan x="770" dy="20">+</tspan><tspan x="770" dy="20">+</tspan><tspan x="770" dy="20">+</tspan><tspan x="770" dy="20">+</tspan><tspan x="770" dy="20">+</tspan><tspan x="770" dy="20">+</tspan><tspan x="770" dy="20">+</tspan><tspan x="770" dy="40">#</tspan><tspan x="770" dy="19">-</tspan></text>
<text y="2255"><tspan x="782">rootTagTrueName()</tspan><tspan x="782" dy="20">rootTagName()</tspan><tspan x="782" dy="20">translatedName()</tspan><tspan x="782" dy="20">read()</tspan><tspan x="782" dy="20">read()</tspan><tspan x="782" dy="20">addInvalidChildren()</tspan><tspan x="782" dy="20">printChildren()</tspan><tspan x="782" dy="20">caseServiceInfo()</tspan><tspan x="782" dy="20">caseModule()</tspan><tspan x="782" dy="20">setCaseServiceInfo()</tspan><tspan x="782" dy="20">et 18 de plus...</tspan><tspan x="782" dy="20">~ICaseOptions()</tspan><tspan x="782" dy="19">ARCCORE_DECLARE_REFERENCE</tspan><tspan x="782" dy="15">_COUNTED_INCLASS_METHODS()</tspan></text>
</g>

<g id="caseoptions">
<rect class="g" x="747" y="2580" width="270" height="500"/>
<path class="s" d="M747,2603H1017M747,2623H1017"/>
<text class="m" x="882" y="2597">Arcane::CaseOptions</text>
<text class="m" y="2637"><tspan x="758">+</tspan><tspan x="758" dy="20">+</tspan><tspan x="758" dy="20">+</tspan><tspan x="758" dy="20">+</tspan><tspan x="758" dy="20">+</tspan><tspan x="758" dy="20">+</tspan><tspan x="758" dy="20">+</tspan><tspan x="758" dy="20">+</tspan><tspan x="758" dy="20">+</tspan><tspan x="758" dy="20">+</tspan><tspan x="758" dy="40">#</tspan><tspan x="758" dy="20">#</tspan><tspan x="758" dy="20">#</tspan><tspan x="758" dy="20">#</tspan><tspan x="758" dy="20">-</tspan><tspan x="758" dy="35">-</tspan><tspan x="758" dy="20">-</tspan><tspan x="758" dy="20">-</tspan><tspan x="758" dy="20">-</tspan><tspan x="758" dy="20">-</tspan><tspan x="758" dy="20">-</tspan></text>
<text y="2637"><tspan x="770">CaseOptions()</tspan><tspan x="770" dy="20">CaseOptions()</tspan><tspan x="770" dy="20">CaseOptions()</tspan><tspan x="770" dy="20">CaseOptions()</tspan><tspan x="770" dy="20">~CaseOptions()</tspan><tspan x="770" dy="20">rootTagTrueName()</tspan><tspan x="770" dy="20">rootTagName()</tspan><tspan x="770" dy="20">translatedName()</tspan><tspan x="770" dy="20">trueName()</tspan><tspan x="770" dy="20">name()</tspan><tspan x="770" dy="20">et 25 de plus...</tspan><tspan x="770" dy="20">CaseOptions()</tspan><tspan x="770" dy="20">CaseOptions()</tspan><tspan x="770" dy="20">_setTranslatedName()</tspan><tspan x="770" dy="20">_setMeshHandleAndCheckDisabled()</tspan><tspan x="770" dy="20">ARCCORE_DEFINE_REFERENCE</tspan><tspan x="770" dy="15">_COUNTED_INCLASS_METHODS()</tspan><tspan x="770" dy="20">CaseOptions()</tspan><tspan x="770" dy="20">CaseOptions()</tspan><tspan x="770" dy="20">operator=()</tspan><tspan x="770" dy="20">_setMeshHandle()</tspan><tspan x="770" dy="20">_setParent()</tspan><tspan x="770" dy="20">createDynamic()</tspan></text>
</g>
</svg>
